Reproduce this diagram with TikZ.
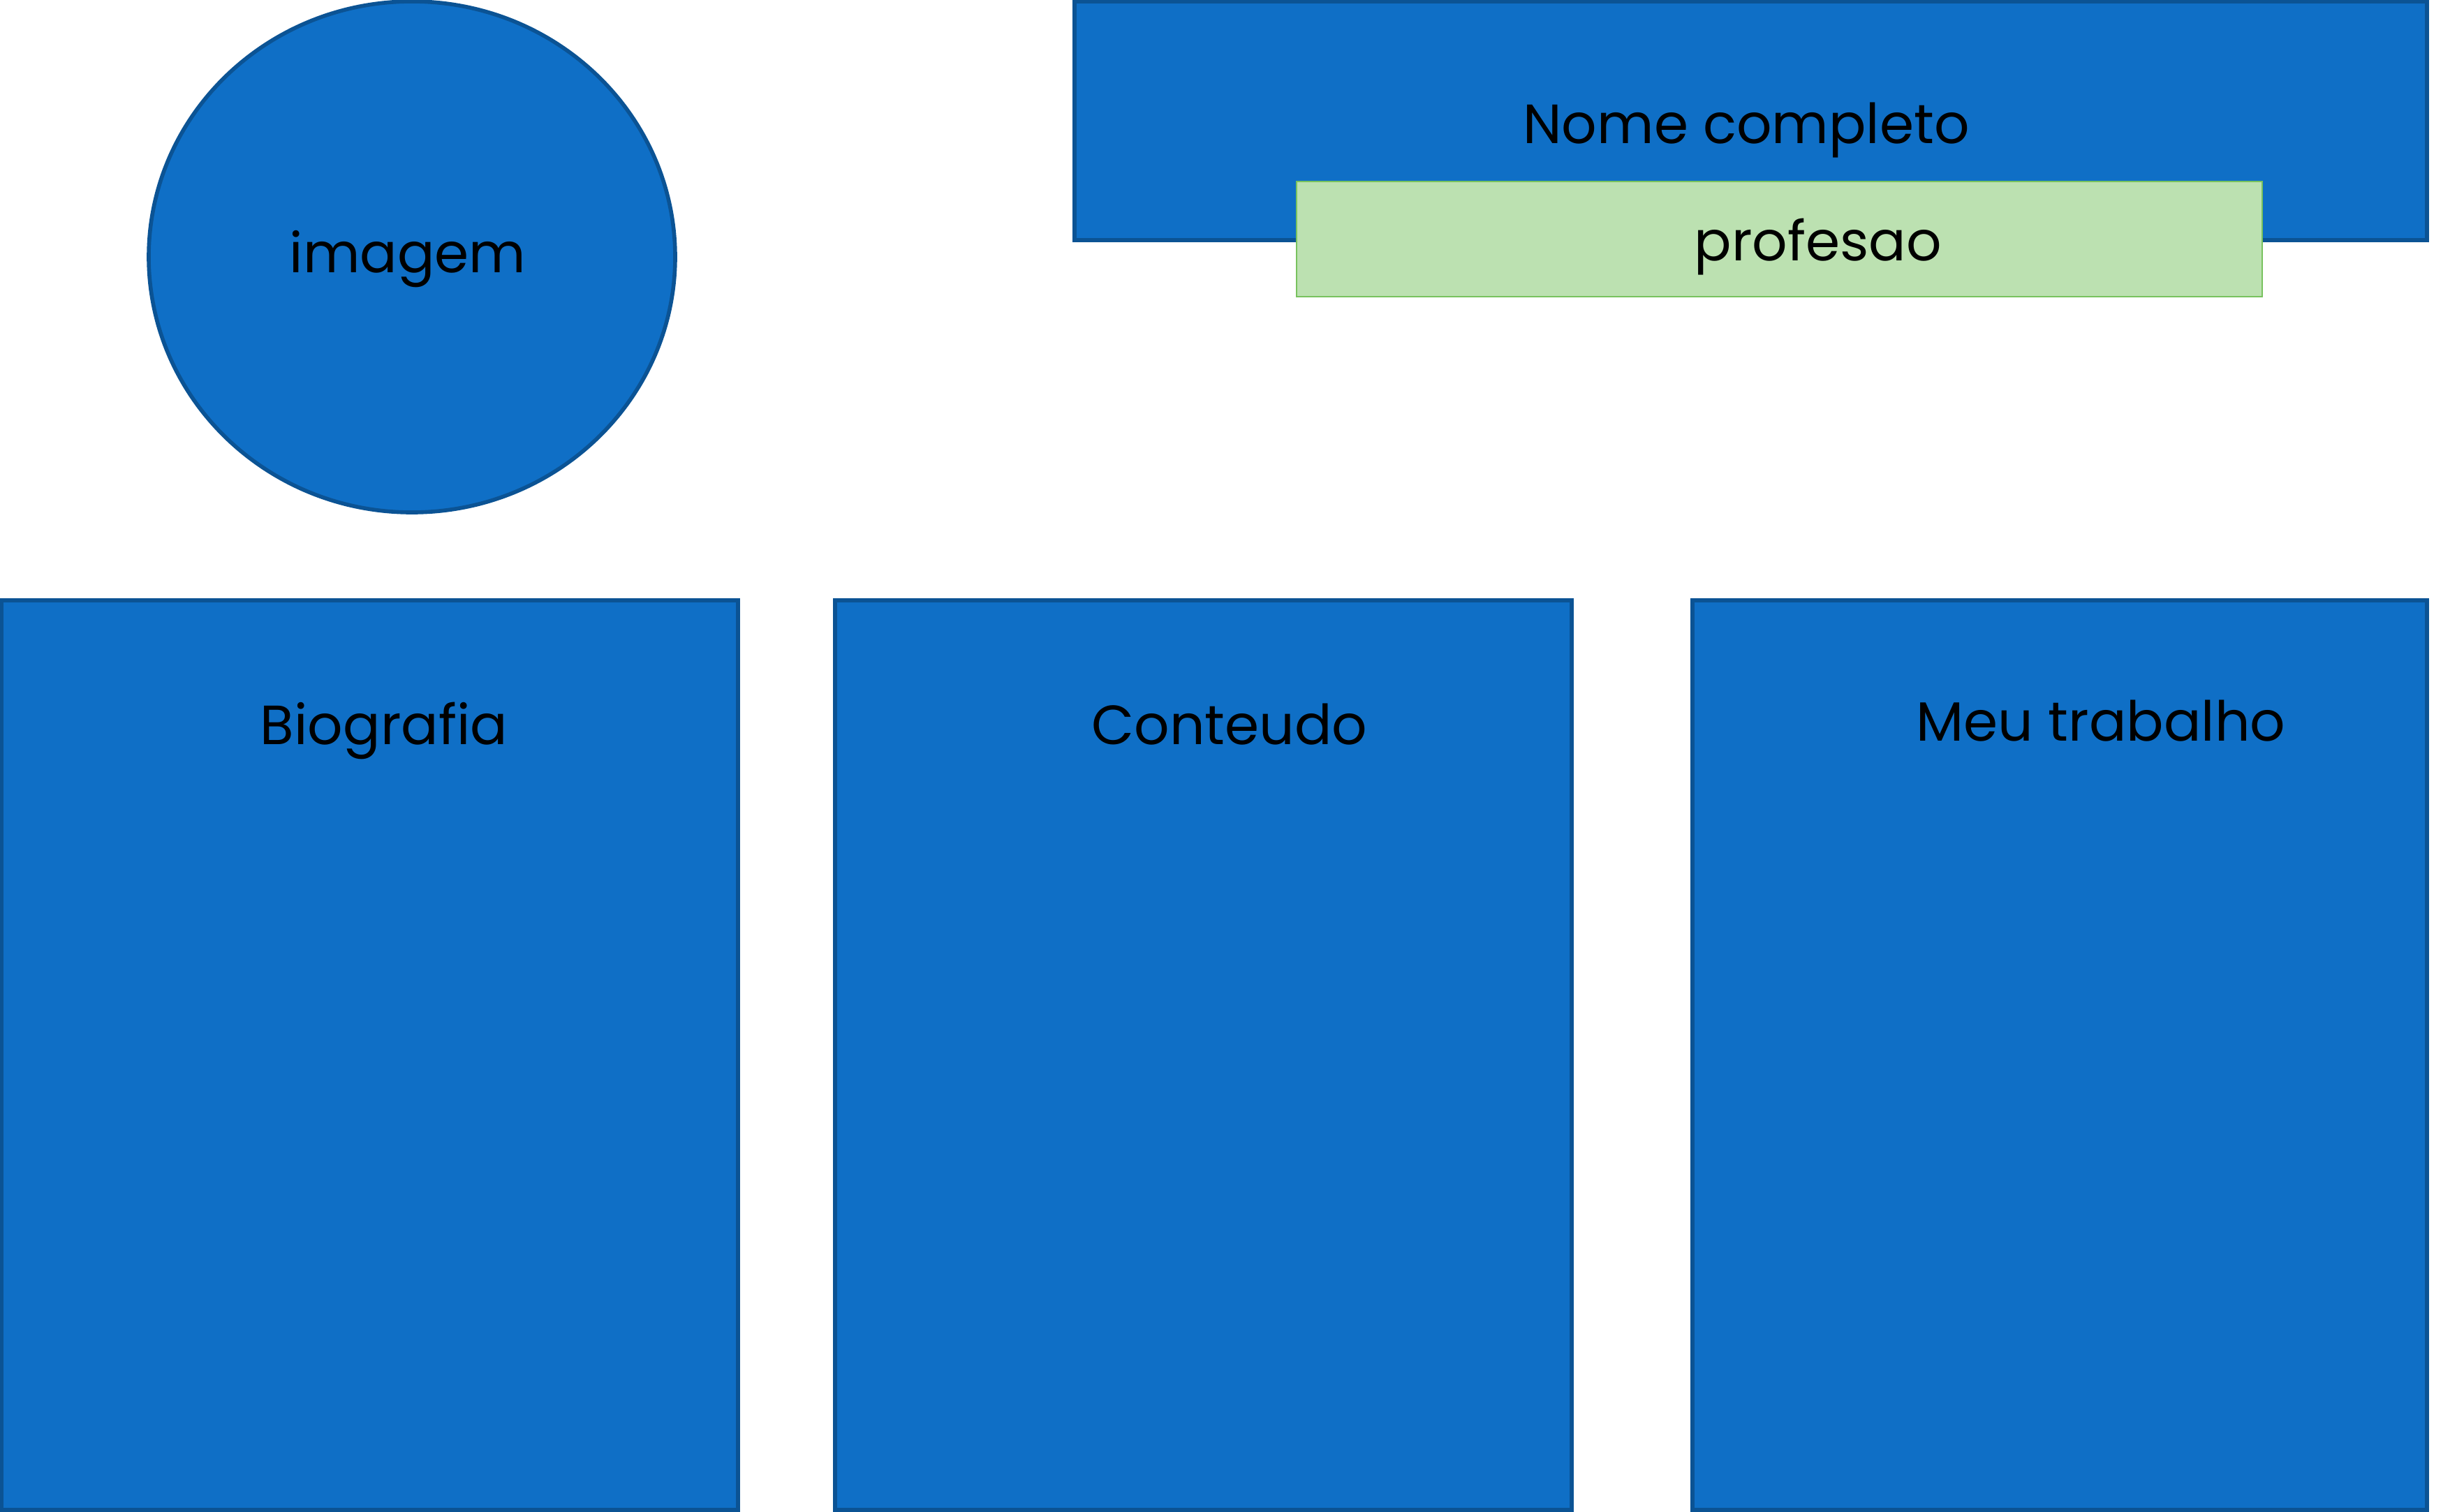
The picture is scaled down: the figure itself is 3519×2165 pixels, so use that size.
\documentclass[tikz,border=0pt]{standalone}
\usepackage{fontspec}
\setmainfont{Poppins}
\usepackage{tikz}
\definecolor{boxblue}{HTML}{0F6FC6}
\definecolor{boxedge}{HTML}{0B5394}
\definecolor{tagfill}{HTML}{BCE1B1}
\definecolor{tagedge}{HTML}{78C25E}
\newcommand{\lbl}{\fontsize{22.5}{27}\selectfont}

\begin{document}
\begin{tikzpicture}[x=0.01cm,y=-0.01cm,
    bloco/.style={fill=boxblue,draw=boxedge,line width=1.6pt},
    etiq/.style={fill=tagfill,draw=tagedge,line width=0.8pt},
    txt/.style={anchor=base,inner sep=0pt,font=\lbl}]
  % page = 3519 x 2165 (pixel units, y down)
  \useasboundingbox (0,0) rectangle (3519,2165);
  \def\yt{860}   % top of the three columns
  \def\yb{2163}  % bottom of the three columns

  % foto
  \draw[bloco] (590,368) ellipse (377 and 366);
  \node[txt] (imagem) at (584,390) {imagem};

  % cabecalho
  \draw[bloco] (1539,2) rectangle (3476,344);
  \node[txt] (nome) at (2501,205) {Nome completo};
  \draw[etiq] (1857,260) rectangle (3240,425);
  \node[txt] (prof) at (2604,373) {profesao};

  % colunas
  \draw[bloco] (2,\yt) rectangle (1057,\yb);
  \draw[bloco] (1196,\yt) rectangle (2251,\yb);
  \draw[bloco] (2424,\yt) rectangle (3476,\yb);
  \node[txt] (bio) at (550,1066) {Biografia};
  \node[txt] (cont) at (1761,1066) {Conteudo};
  \node[txt] (trab) at (3009,1061) {Meu trabalho};
\end{tikzpicture}
\end{document}
